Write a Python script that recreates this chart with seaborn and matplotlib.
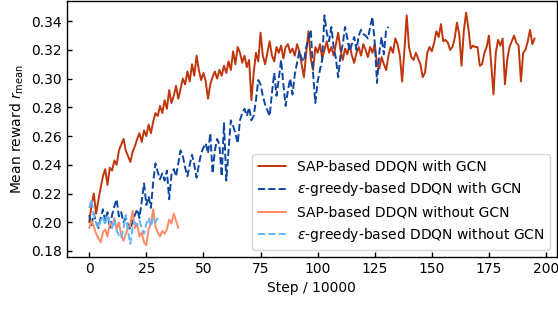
import matplotlib
matplotlib.use("Agg")
import matplotlib.pyplot as plt
import seaborn as sns
import numpy as np
import pandas as pd

labels = [
    "SAP-based DDQN with GCN",
    r"$\epsilon$-greedy-based DDQN with GCN",
    "SAP-based DDQN without GCN",
    r"$\epsilon$-greedy-based DDQN without GCN",
]
colors = ["#BF360C", "#0D47A1", "#FF8A65", "#64B5F6"]

sap_gcn = [
    0.200, 0.212, 0.220, 0.206, 0.215, 0.224, 0.232, 0.237, 0.226, 0.238,
    0.236, 0.243, 0.240, 0.250, 0.254, 0.258, 0.250, 0.246, 0.242, 0.249,
    0.253, 0.258, 0.262, 0.256, 0.264, 0.260, 0.268, 0.262, 0.270, 0.276,
    0.274, 0.281, 0.276, 0.285, 0.279, 0.292, 0.283, 0.288, 0.295, 0.286,
    0.293, 0.300, 0.296, 0.305, 0.298, 0.310, 0.302, 0.316, 0.306, 0.299,
    0.304, 0.298, 0.286, 0.296, 0.301, 0.305, 0.300, 0.306, 0.302, 0.309,
    0.304, 0.312, 0.306, 0.319, 0.310, 0.322, 0.318, 0.311, 0.316, 0.308,
    0.313, 0.285, 0.304, 0.318, 0.312, 0.332, 0.316, 0.310, 0.318, 0.326,
    0.316, 0.312, 0.322, 0.318, 0.323, 0.314, 0.322, 0.324, 0.318, 0.321,
    0.316, 0.324, 0.319, 0.310, 0.301, 0.318, 0.333, 0.314, 0.306, 0.322,
    0.318, 0.324, 0.314, 0.320, 0.326, 0.318, 0.322, 0.316, 0.324, 0.332,
    0.320, 0.313, 0.321, 0.317, 0.324, 0.316, 0.311, 0.318, 0.322, 0.316,
    0.324, 0.320, 0.315, 0.322, 0.318, 0.324, 0.310, 0.307, 0.315, 0.310,
    0.306, 0.316, 0.322, 0.318, 0.328, 0.324, 0.316, 0.298, 0.320, 0.344,
    0.322, 0.315, 0.313, 0.318, 0.314, 0.310, 0.301, 0.304, 0.318, 0.322,
    0.319, 0.325, 0.333, 0.329, 0.338, 0.326, 0.327, 0.325, 0.320, 0.322,
    0.328, 0.339, 0.331, 0.309, 0.333, 0.346, 0.335, 0.321, 0.323, 0.322,
    0.322, 0.309, 0.310, 0.318, 0.322, 0.330, 0.310, 0.289, 0.318, 0.327,
    0.323, 0.328, 0.296, 0.313, 0.322, 0.326, 0.330, 0.325, 0.323, 0.298,
    0.318, 0.320, 0.326, 0.334, 0.324, 0.328,
]

eps_gcn = [
    0.205, 0.198, 0.206, 0.200, 0.196, 0.203, 0.209, 0.201, 0.207, 0.196,
    0.205, 0.211, 0.216, 0.204, 0.207, 0.200, 0.203, 0.198, 0.195, 0.201,
    0.205, 0.209, 0.203, 0.215, 0.227, 0.212, 0.218, 0.210, 0.228, 0.241,
    0.235, 0.230, 0.234, 0.229, 0.236, 0.216, 0.233, 0.237, 0.232, 0.241,
    0.250, 0.246, 0.238, 0.232, 0.240, 0.247, 0.240, 0.231, 0.240, 0.248,
    0.252, 0.255, 0.248, 0.262, 0.234, 0.250, 0.258, 0.254, 0.232, 0.269,
    0.229, 0.250, 0.271, 0.267, 0.262, 0.255, 0.271, 0.276, 0.279, 0.274,
    0.280, 0.271, 0.274, 0.285, 0.299, 0.296, 0.288, 0.282, 0.278, 0.274,
    0.290, 0.304, 0.288, 0.300, 0.313, 0.296, 0.281, 0.292, 0.300, 0.289,
    0.303, 0.311, 0.319, 0.314, 0.312, 0.322, 0.328, 0.334, 0.304, 0.283,
    0.298, 0.306, 0.313, 0.344, 0.332, 0.326, 0.336, 0.322, 0.314, 0.301,
    0.316, 0.324, 0.336, 0.328, 0.319, 0.324, 0.329, 0.320, 0.330, 0.334,
    0.331, 0.330, 0.328, 0.336, 0.343, 0.325, 0.297, 0.318, 0.329, 0.317,
    0.334, 0.336,
]

sap_nogcn = [
    0.196, 0.201, 0.197, 0.192, 0.189, 0.186, 0.193, 0.195, 0.190, 0.200,
    0.197, 0.203, 0.195, 0.200, 0.191, 0.187, 0.192, 0.196, 0.199, 0.208,
    0.196, 0.199, 0.190, 0.193, 0.186, 0.184, 0.195, 0.199, 0.209, 0.197,
    0.193, 0.190, 0.194, 0.192, 0.195, 0.202, 0.199, 0.206, 0.201, 0.196,
]

eps_nogcn = [
    0.210, 0.216, 0.205, 0.199, 0.196, 0.201, 0.204, 0.198, 0.205, 0.200,
    0.196, 0.202, 0.194, 0.191, 0.189, 0.196, 0.205, 0.193, 0.185, 0.196,
    0.200, 0.198, 0.201, 0.196, 0.192, 0.199, 0.203, 0.197, 0.203, 0.200,
    0.203,
]

series = [sap_gcn, eps_gcn, sap_nogcn, eps_nogcn]
frames = []
for name, vals in zip(labels, series):
    frames.append(pd.DataFrame({"step": np.arange(len(vals)), "reward": vals, "method": name}))
df = pd.concat(frames, ignore_index=True)

sns.set_style("ticks", {
    "xtick.direction": "in", "ytick.direction": "in",
    "axes.edgecolor": "black", "axes.labelcolor": "black", "text.color": "black",
    "xtick.color": "black", "ytick.color": "black",
})
plt.rcParams["font.family"] = ["DejaVu Sans"]
plt.rcParams["axes.linewidth"] = 1.0

fig, ax = plt.subplots(figsize=(5.58, 3.14), dpi=100)
sns.lineplot(
    data=df, x="step", y="reward", hue="method", style="method",
    hue_order=labels, style_order=labels, palette=colors,
    dashes=["", (3.7, 1.6), "", (3.7, 1.6)], linewidth=1.4, ax=ax,
)
ax.set_xticks([0, 25, 50, 75, 100, 125, 150, 175, 200])
ax.set_yticks([0.18, 0.20, 0.22, 0.24, 0.26, 0.28, 0.30, 0.32, 0.34])
ax.set_xlabel("Step / 10000", fontsize=10)
ax.set_ylabel(r"Mean reward $r_{\mathrm{mean}}$", fontsize=10)
ax.tick_params(labelsize=10, top=False, right=False, length=3.5, width=1.0)
for s in ax.spines.values():
    s.set_visible(True)
    s.set_color("black")
ax.legend(loc="lower right", fontsize=10, title=None, edgecolor="0.8")
fig.subplots_adjust(left=0.12, right=0.998, top=0.997, bottom=0.182)
fig.savefig("out.png", dpi=100)
